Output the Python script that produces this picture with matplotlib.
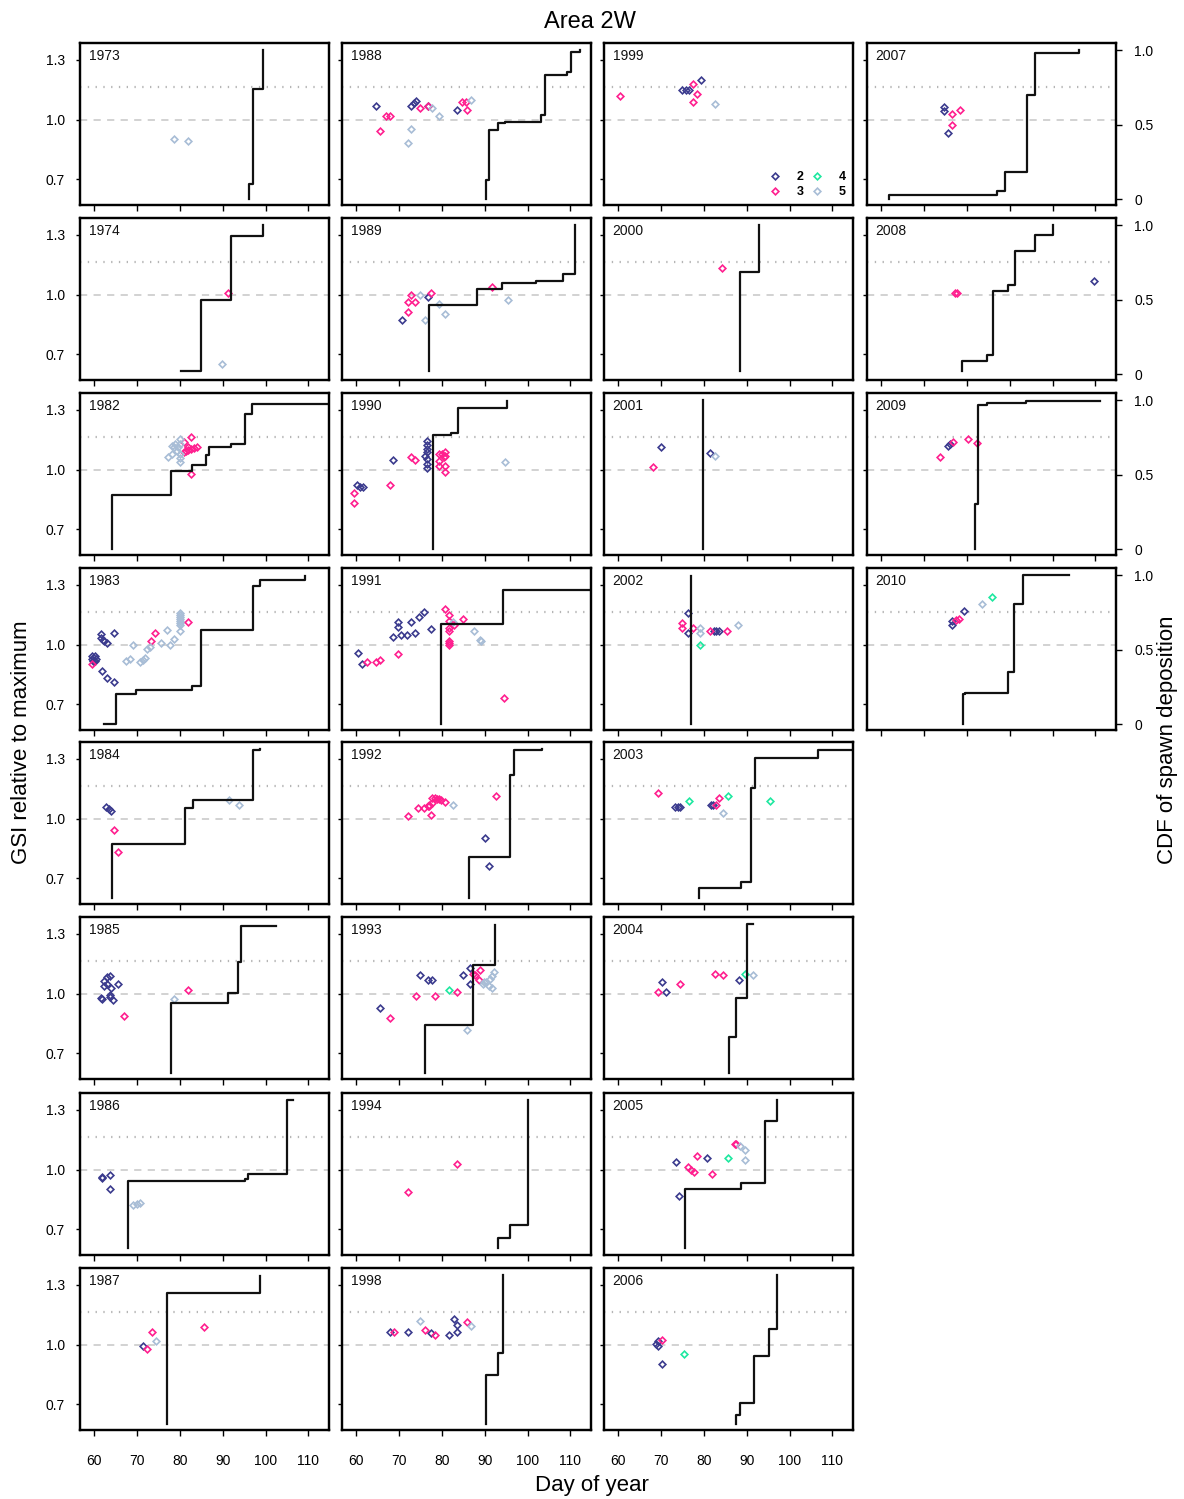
import matplotlib
matplotlib.use('Agg')
import matplotlib.pyplot as plt

plt.rcParams['font.family'] = ['Liberation Sans', 'DejaVu Sans']

# panel layout: one list of years per column
col_years = [
    [1973, 1974, 1982, 1983, 1984, 1985, 1986, 1987],
    [1988, 1989, 1990, 1991, 1992, 1993, 1994, 1998],
    [1999, 2000, 2001, 2002, 2003, 2004, 2005, 2006],
    [2007, 2008, 2009, 2010],
]

group_labels = ['2', '3', '4', '5']
group_colors = ['#3b3b8e', '#ff1f8f', '#1ee8a0', '#a8bdd6']

# GSI points (day of year, GSI relative to maximum) per group, by year
gsi_2 = {
    1983: [(59.6, 0.94), (60.3, 0.94), (59.4, 0.928), (60.4, 0.925), (59.8, 0.917), (60.3, 0.917),
           (61.5, 1.053), (61.5, 1.033), (62.0, 1.025), (62.4, 1.016), (62.9, 1.008), (64.7, 1.058),
           (61.8, 0.865), (62.9, 0.832), (64.7, 0.81)],
    1984: [(62.7, 1.058), (63.4, 1.048), (64.0, 1.037)],
    1985: [(62.9, 1.084), (63.8, 1.089), (62.3, 1.062), (63.1, 1.05), (62.2, 1.038), (64.0, 1.028),
           (64.5, 0.967), (63.8, 0.983), (65.6, 1.05), (61.8, 0.972), (63.8, 0.995), (61.6, 0.98)],
    1986: [(61.8, 0.955), (61.8, 0.962), (63.8, 0.972), (63.8, 0.90)],
    1987: [(71.5, 0.992)],
    1988: [(64.6, 1.069), (72.8, 1.067), (73.4, 1.085), (73.9, 1.094), (83.5, 1.05), (76.8, 1.07)],
    1989: [(70.6, 0.874), (76.8, 0.99)],
    1990: [(60.3, 0.923), (60.9, 0.911), (61.5, 0.911), (68.6, 1.05), (76.6, 1.145), (76.6, 1.125),
           (76.6, 1.105), (76.6, 1.087), (76.1, 1.07), (76.6, 1.055), (76.6, 1.03), (76.6, 1.01)],
    1991: [(60.4, 0.959), (61.3, 0.90), (68.6, 1.038), (69.7, 1.115), (69.7, 1.09), (70.4, 1.05),
           (71.9, 1.05), (72.8, 1.115), (73.8, 1.058), (74.7, 1.137), (75.9, 1.164), (77.5, 1.08)],
    1992: [(90.0, 0.90), (90.9, 0.762)],
    1993: [(65.6, 0.928), (74.8, 1.092), (76.8, 1.07), (77.6, 1.07), (84.9, 1.092), (86.6, 1.129),
           (86.6, 1.05)],
    1998: [(67.8, 1.064), (72.0, 1.064), (77.5, 1.059), (81.7, 1.05), (82.8, 1.13), (83.5, 1.10),
           (83.6, 1.064)],
    1999: [(74.8, 1.15), (75.9, 1.15), (76.6, 1.15), (79.3, 1.197)],
    2001: [(70.1, 1.112), (81.4, 1.082)],
    2002: [(76.4, 1.156), (76.4, 1.058), (82.3, 1.066), (82.9, 1.066), (83.6, 1.066)],
    2003: [(73.3, 1.058), (73.9, 1.058), (74.5, 1.058), (81.6, 1.067), (82.2, 1.067)],
    2004: [(70.2, 1.059), (71.2, 1.008), (88.2, 1.07)],
    2005: [(73.5, 1.038), (74.3, 0.869), (80.8, 1.06)],
    2006: [(69.3, 1.017), (69.3, 0.995), (68.9, 1.005), (70.2, 0.90)],
    2007: [(74.6, 1.064), (74.6, 1.044), (75.6, 0.933)],
    2008: [(109.6, 1.07)],
    2009: [(75.5, 1.12), (76.1, 1.129)],
    2010: [(76.5, 1.099), (76.5, 1.118), (79.3, 1.168)],
}

gsi_3 = {
    1974: [(91.3, 1.01)],
    1982: [(80.9, 1.137), (82.6, 1.162), (81.8, 1.112), (84.0, 1.112), (80.9, 1.087), (81.4, 1.092),
           (81.9, 1.099), (82.5, 1.104), (82.6, 0.978), (83.2, 1.107)],
    1983: [(59.6, 0.90), (73.3, 1.016), (74.2, 1.058), (81.8, 1.115)],
    1984: [(64.6, 0.94), (65.6, 0.832)],
    1985: [(67.0, 0.888), (81.9, 1.02)],
    1987: [(72.4, 0.975), (73.6, 1.064), (85.6, 1.089)],
    1988: [(65.5, 0.94), (66.9, 1.02), (67.9, 1.02), (74.8, 1.06), (76.8, 1.07), (84.7, 1.09),
           (85.7, 1.09), (85.8, 1.05)],
    1989: [(72.0, 0.913), (72.0, 0.962), (73.8, 0.962), (72.9, 1.0), (77.5, 1.01), (91.8, 1.04)],
    1990: [(59.6, 0.883), (59.6, 0.833), (67.9, 0.92), (72.8, 1.062), (73.8, 1.05), (79.4, 1.045),
           (79.4, 1.02), (80.7, 1.087), (80.7, 1.067), (80.7, 1.02), (80.7, 0.99), (80.1, 1.08),
           (79.4, 1.08), (80.4, 1.062)],
    1991: [(62.6, 0.91), (64.7, 0.91), (65.6, 0.921), (69.7, 0.95), (80.7, 1.178), (81.6, 1.148),
           (81.6, 1.12), (81.6, 1.085), (81.6, 1.07), (81.6, 1.016), (81.6, 1.008), (81.6, 1.0),
           (82.9, 1.10), (84.9, 1.127), (94.6, 0.73)],
    1992: [(72.0, 1.012), (74.5, 1.053), (75.8, 1.053), (76.7, 1.062), (77.1, 1.07), (77.6, 1.078),
           (77.6, 1.103), (78.5, 1.103), (79.4, 1.098), (79.8, 1.095), (80.7, 1.082), (77.4, 1.02),
           (76.9, 1.065), (78.9, 1.10), (92.6, 1.112)],
    1993: [(67.9, 0.878), (73.9, 0.988), (78.5, 0.988), (83.5, 1.008), (87.3, 1.10), (87.7, 1.092),
           (89.0, 1.12), (88.6, 1.067)],
    1994: [(72.0, 0.889), (83.5, 1.028)],
    1998: [(68.8, 1.064), (76.1, 1.075), (78.5, 1.05), (85.8, 1.112)],
    1999: [(60.4, 1.118), (77.5, 1.18), (78.4, 1.13), (77.4, 1.09)],
    2000: [(84.3, 1.131)],
    2001: [(68.1, 1.012)],
    2002: [(75.0, 1.107), (75.0, 1.082), (77.5, 1.082), (81.4, 1.066), (85.3, 1.066)],
    2003: [(69.3, 1.128), (82.8, 1.07), (83.5, 1.103)],
    2004: [(69.3, 1.008), (74.4, 1.05), (82.6, 1.10), (84.5, 1.092)],
    2005: [(76.4, 1.013), (77.0, 1.0), (77.6, 0.988), (78.5, 1.068), (81.8, 0.98), (87.2, 1.129),
           (87.6, 1.126)],
    2006: [(70.2, 1.022)],
    2007: [(76.5, 1.03), (78.4, 1.05), (76.5, 0.97)],
    2008: [(77.3, 1.01), (77.8, 1.01)],
    2009: [(73.7, 1.062), (76.7, 1.14), (80.3, 1.154), (82.4, 1.134)],
    2010: [(77.4, 1.123), (78.1, 1.13)],
}

gsi_4 = {
    1993: [(81.7, 1.02)],
    2002: [(79.2, 1.0)],
    2003: [(76.6, 1.09), (85.6, 1.112), (95.5, 1.09)],
    2004: [(89.5, 1.10)],
    2005: [(85.6, 1.06)],
    2006: [(75.3, 0.95)],
    2010: [(85.9, 1.238)],
}

gsi_5 = {
    1973: [(78.6, 0.90), (81.8, 0.89)],
    1974: [(89.8, 0.65)],
    1982: [(77.3, 1.062), (78.2, 1.079), (78.7, 1.112), (79.3, 1.095), (80.0, 1.154), (80.0, 1.129),
           (80.0, 1.079), (80.0, 1.04), (78.9, 1.129), (79.5, 1.112), (78.2, 1.12), (80.0, 1.06)],
    1983: [(67.5, 0.918), (68.3, 0.926), (70.7, 0.91), (71.3, 0.92), (71.8, 0.93), (69.1, 1.0),
           (72.4, 0.975), (73.1, 0.99), (75.7, 1.008), (76.9, 1.074), (77.8, 1.0), (78.6, 1.03),
           (80.0, 1.066), (80.0, 1.10), (80.0, 1.11), (80.0, 1.12), (80.0, 1.13), (80.0, 1.14),
           (80.0, 1.15), (80.0, 1.16)],
    1984: [(91.5, 1.095), (93.9, 1.07)],
    1985: [(78.7, 0.97)],
    1986: [(69.1, 0.823), (70.0, 0.828), (70.8, 0.831)],
    1987: [(74.5, 1.017)],
    1988: [(72.9, 0.952), (72.0, 0.88), (77.6, 1.06), (79.4, 1.02), (86.8, 1.10)],
    1989: [(74.8, 1.0), (76.1, 0.874), (79.4, 0.95), (80.7, 0.90), (95.5, 0.97)],
    1990: [(94.7, 1.04)],
    1991: [(82.5, 1.115), (87.6, 1.07), (88.9, 1.025), (89.1, 1.02)],
    1992: [(82.5, 1.07)],
    1993: [(89.5, 1.05), (90.4, 1.058), (91.3, 1.075), (91.8, 1.09), (92.2, 1.11), (90.9, 1.04),
           (91.8, 1.03), (89.8, 1.06), (85.9, 0.816)],
    1998: [(74.8, 1.12), (86.8, 1.092)],
    1999: [(82.6, 1.08)],
    2001: [(82.7, 1.07)],
    2002: [(79.2, 1.082), (79.2, 1.058), (88.0, 1.099)],
    2003: [(84.5, 1.03)],
    2004: [(91.5, 1.092)],
    2005: [(88.4, 1.116), (89.7, 1.1), (89.6, 1.05)],
    2010: [(83.5, 1.205)],
}

# CDF of spawn deposition (day, cumulative fraction), drawn as a step line
spawn_cdf = {
    1973: [(96.1, 0.0), (96.1, 0.10), (97.1, 0.74), (99.5, 1.0)],
    1974: [(80.2, 0.02), (85.0, 0.50), (92.0, 0.93), (99.5, 1.0)],
    1982: [(64.2, 0.0), (64.2, 0.367), (78.0, 0.523), (82.9, 0.564), (86.0, 0.63), (86.9, 0.69),
           (92.0, 0.709), (95.1, 0.91), (96.9, 0.978), (116.0, 0.978)],
    1983: [(62.2, 0.0), (65.2, 0.20), (69.8, 0.228), (82.9, 0.257), (85.0, 0.631), (97.0, 0.928),
           (98.6, 0.966), (109.3, 0.993)],
    1984: [(64.2, 0.0), (64.2, 0.362), (81.3, 0.604), (83.1, 0.658), (97.0, 0.993), (98.6, 1.0)],
    1985: [(78.0, 0.0), (78.0, 0.47), (91.2, 0.537), (93.5, 0.75), (94.3, 0.99), (102.4, 0.99)],
    1986: [(67.8, 0.01), (67.8, 0.459), (95.1, 0.47), (96.0, 0.503), (105.0, 1.0), (106.4, 1.0)],
    1987: [(77.1, 0.0), (77.1, 0.879), (98.6, 0.998)],
    1988: [(90.4, 0.0), (90.4, 0.125), (91.1, 0.465), (93.1, 0.51), (94.8, 0.52), (103.2, 0.567),
           (104.1, 0.834), (109.2, 0.853), (110.1, 0.99), (112.2, 1.0)],
    1989: [(76.9, 0.018), (76.9, 0.464), (88.2, 0.57), (94.0, 0.614), (101.9, 0.625), (108.3, 0.67),
           (111.1, 1.0)],
    1990: [(77.9, 0.0), (77.9, 0.765), (82.2, 0.78), (83.8, 0.95), (95.3, 0.993)],
    1991: [(79.8, 0.0), (79.8, 0.676), (94.2, 0.90), (116.0, 0.90)],
    1992: [(86.3, 0.0), (86.3, 0.277), (95.9, 0.828), (96.8, 0.993), (103.4, 1.0)],
    1993: [(76.0, 0.0), (76.0, 0.324), (87.2, 0.727), (92.4, 0.996)],
    1994: [(93.1, 0.01), (93.1, 0.072), (96.0, 0.163), (100.1, 1.0)],
    1998: [(90.4, 0.0), (90.4, 0.327), (93.1, 0.476), (94.2, 1.0)],
    2000: [(88.4, 0.018), (88.4, 0.69), (92.8, 1.0)],
    2001: [(79.7, 0.0), (79.7, 1.0)],
    2002: [(77.0, 0.0), (77.0, 0.996)],
    2003: [(78.9, 0.0), (78.9, 0.065), (88.7, 0.11), (90.9, 0.738), (91.9, 0.94), (106.7, 0.993),
           (116.0, 0.993)],
    2004: [(85.8, 0.0), (85.8, 0.242), (87.6, 0.508), (90.1, 1.0), (91.5, 1.0)],
    2005: [(75.6, 0.01), (75.6, 0.407), (88.7, 0.447), (94.2, 0.861), (97.0, 1.0)],
    2006: [(87.6, 0.0), (87.6, 0.063), (88.5, 0.141), (91.8, 0.461), (95.1, 0.64), (97.0, 1.0)],
    2007: [(61.9, 0.0), (61.9, 0.03), (87.1, 0.057), (88.9, 0.18), (94.1, 0.70), (95.8, 0.986),
           (106.1, 1.0)],
    2008: [(78.9, 0.018), (78.9, 0.09), (84.8, 0.13), (86.1, 0.56), (89.7, 0.60), (91.3, 0.826),
           (95.8, 0.933), (100.0, 1.0)],
    2009: [(81.9, 0.0), (81.9, 0.306), (82.6, 0.966), (84.8, 0.982), (93.9, 0.993), (111.1, 0.993)],
    2010: [(79.0, 0.0), (79.0, 0.20), (79.6, 0.21), (89.7, 0.347), (91.1, 0.805), (93.0, 1.0),
           (103.9, 1.0)],
}

groups = [gsi_2, gsi_3, gsi_4, gsi_5]

# figure geometry in pixels
W, H = 1184, 1499
col_left = [80, 342, 604, 867]
row_top = [43, 218, 393, 568, 742, 917, 1093, 1268]
pw, ph = 249, 162

fig = plt.figure(figsize=(W / 100, H / 100), dpi=100)
fig.patch.set_facecolor('white')

for c, years in enumerate(col_years):
    for r, year in enumerate(years):
        ax = fig.add_axes([col_left[c] / W, 1 - (row_top[r] + ph) / H, pw / W, ph / H])
        ax.set_xlim(56.7, 114.8)
        ax.set_ylim(0.572, 1.383)
        ax.set_xticks([60, 70, 80, 90, 100, 110])
        ax.set_yticks([0.7, 1.0, 1.3])
        ax.set_yticklabels(['0.7', '1.0', '1.3'])
        for s in ax.spines.values():
            s.set_linewidth(1.6)

        ax.axhline(1.0, color='#cfcfcf', lw=1.3, ls=(0, (4, 3.5)), zorder=1)
        ax.axhline(1.165, color='#b5b5b5', lw=1.6, ls=(0, (0.6, 2.9)), zorder=1)

        for g, pts in enumerate(groups):
            if year in pts:
                xs = [p[0] for p in pts[year]]
                ys = [p[1] for p in pts[year]]
                ax.plot(xs, ys, ls='none', marker='D', ms=3.4, mfc='none', mew=1.2,
                        mec=group_colors[g], zorder=3)

        ax.text(0.035, 0.965, str(year), transform=ax.transAxes, ha='left', va='top',
                fontsize=10, color='#111111')

        last_row = (r == len(years) - 1) and c < 3
        ax.tick_params(axis='x', direction='out', length=4, width=1, labelsize=10,
                       pad=13, labelbottom=last_row)
        ax.tick_params(axis='y', direction='out', length=3, width=1, labelsize=10,
                       pad=8, labelleft=(c == 0))

        if year == 1999:
            handles = [plt.Line2D([], [], ls='none', marker='D', ms=3.4, mfc='none', mew=1.2,
                                  mec=group_colors[g]) for g in range(4)]
            ax.legend(handles, group_labels, ncol=2, loc='lower right', frameon=False,
                      prop={'size': 9, 'weight': 'bold'}, handlelength=1.0, handletextpad=1.3,
                      columnspacing=0.5, labelspacing=0.25, borderaxespad=0.15)

        ax2 = ax.twinx()
        ax2.set_ylim(-0.04, 1.05)
        if year in spawn_cdf:
            xs = [p[0] for p in spawn_cdf[year]]
            ys = [p[1] for p in spawn_cdf[year]]
            ax2.plot(xs, ys, drawstyle='steps-post', color='#111111', lw=1.6)
        ax2.set_xlim(56.7, 114.8)
        if c == 3:
            ax2.set_yticks([0, 0.5, 1.0])
            ax2.set_yticklabels(['0', '0.5', '1.0'])
            ax2.tick_params(axis='y', direction='out', length=4, width=1, labelsize=10, pad=9)
        else:
            ax2.set_yticks([])
        for s in ax2.spines.values():
            s.set_linewidth(1.6)

fig.text(590 / W, 1 - 22 / H, 'Area 2W', ha='center', va='center', fontsize=17)
fig.text(592 / W, 1 - 1486 / H, 'Day of year', ha='center', va='center', fontsize=16)
fig.text(22 / W, 1 - 742 / H, 'GSI relative to maximum', ha='center', va='center',
         rotation=90, fontsize=16)
fig.text(1168 / W, 1 - 740 / H, 'CDF of spawn deposition', ha='center', va='center',
         rotation=90, fontsize=16)

fig.savefig('out.png', dpi=100)
